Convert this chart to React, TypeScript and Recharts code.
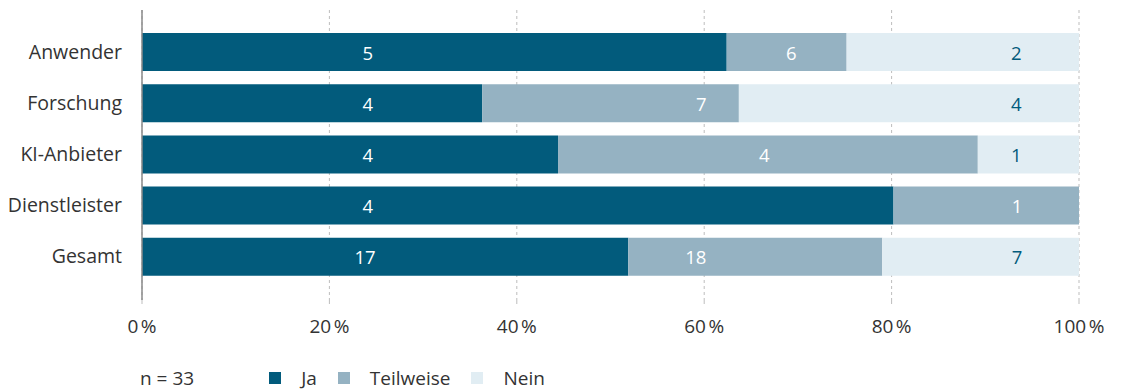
import React from "react";
import { BarChart, Bar, XAxis, YAxis, CartesianGrid, Legend, LabelList } from "recharts";

const categories = ["Anwender", "Forschung", "KI-Anbieter", "Dienstleister", "Gesamt"];
const jaPct = [62.4, 36.3, 44.4, 80.2, 51.9];
const teilPct = [12.8, 27.4, 44.8, 19.8, 27.1];
const neinPct = [24.8, 36.3, 10.8, 0, 21.0];
const jaCount = [5, 4, 4, 4, 17];
const teilCount = [6, 7, 4, 1, 18];
const neinCount: (number | null)[] = [2, 4, 1, null, 7];
// label anchor positions along the percent axis
const jaLabelAt = [24.1, 24.1, 24.1, 24.1, 23.8];
const teilLabelAt = [69.3, 59.7, 66.4, 93.4, 59.1];
const neinLabelAt = [93.3, 93.3, 93.3, 93.3, 93.4];
const xTicks = [0, 20, 40, 60, 80, 100];

const COLORS = { ja: "#025b7c", teil: "#95b2c2", nein: "#e1edf3" };
const FONT = "'Open Sans', sans-serif";

const data = categories.map((c, i) => ({
  name: c,
  ja: jaPct[i],
  teil: teilPct[i],
  nein: neinPct[i],
}));

const makeLabel = (
  counts: (number | null)[],
  labelAt: number[],
  starts: number[],
  values: number[],
  color: string
) => (props: any) => {
  const { x, y, width, height, value } = props;
  const index = categories.indexOf(value);
  if (index < 0) return null;
  const c = counts[index];
  if (c == null || !values[index]) return null;
  const pxPer = width / values[index];
  const lx = x + (labelAt[index] - starts[index]) * pxPer;
  return (
    <text
      x={lx}
      y={y + height / 2}
      textAnchor="middle"
      dominantBaseline="central"
      fill={color}
      fontSize={18.5}
      fontFamily={FONT}
    >
      {c}
    </text>
  );
};

const zeros = categories.map(() => 0);
const teilStarts = jaPct.slice();
const neinStarts = jaPct.map((v, i) => v + teilPct[i]);

const LegendContent = () => {
  const items = [
    { label: "Ja", color: COLORS.ja },
    { label: "Teilweise", color: COLORS.teil },
    { label: "Nein", color: COLORS.nein },
  ];
  return (
    <div
      style={{
        display: "flex",
        alignItems: "center",
        fontFamily: FONT,
        fontSize: 19,
        color: "#333",
        height: 24,
        paddingLeft: 118,
      }}
    >
      <span style={{ marginRight: 75 }}>n = 33</span>
      {items.map((it) => (
        <span key={it.label} style={{ display: "flex", alignItems: "center", marginRight: 21 }}>
          <span
            style={{
              display: "inline-block",
              width: 12,
              height: 12,
              background: it.color,
              marginRight: 20,
            }}
          />
          {it.label}
        </span>
      ))}
    </div>
  );
};

export default function App() {
  return (
    <div style={{ width: 1112, height: 382 }}>
      <BarChart
        width={1112}
        height={382}
        data={data}
        layout="vertical"
        margin={{ top: 2, right: 41, left: 14, bottom: 0 }}
        barSize={38}
      >
        <CartesianGrid
          horizontal={false}
          vertical={true}
          stroke="#bdbdbd"
          strokeDasharray="3 3"
        />
        <XAxis
          type="number"
          domain={[0, 100]}
          ticks={xTicks}
          tickFormatter={(v: number) => `${v}\u202F%`}
          axisLine={false}
          tickLine={{ stroke: "#bdbdbd" }}
          tickSize={4}
          tickMargin={16}
          height={66}
          tick={{ fill: "#333", fontSize: 19, fontFamily: FONT }}
          interval={0}
        />
        <YAxis
          type="category"
          dataKey="name"
          width={120}
          axisLine={{ stroke: "#8a8a8a", strokeWidth: 1.5 }}
          tickLine={false}
          tickSize={0}
          tickMargin={20}
          padding={{ top: 16, bottom: 18 }}
          tick={{ fill: "#333", fontSize: 19.5, fontFamily: FONT }}
        />
        <Legend verticalAlign="bottom" content={<LegendContent />} />
        <Bar dataKey="ja" stackId="a" fill={COLORS.ja} isAnimationActive={false}>
          <LabelList dataKey="name" content={makeLabel(jaCount, jaLabelAt, zeros, jaPct, "#ffffff")} />
        </Bar>
        <Bar dataKey="teil" stackId="a" fill={COLORS.teil} isAnimationActive={false}>
          <LabelList dataKey="name" content={makeLabel(teilCount, teilLabelAt, teilStarts, teilPct, "#ffffff")} />
        </Bar>
        <Bar dataKey="nein" stackId="a" fill={COLORS.nein} isAnimationActive={false}>
          <LabelList dataKey="name" content={makeLabel(neinCount, neinLabelAt, neinStarts, neinPct, COLORS.ja)} />
        </Bar>
      </BarChart>
    </div>
  );
}
